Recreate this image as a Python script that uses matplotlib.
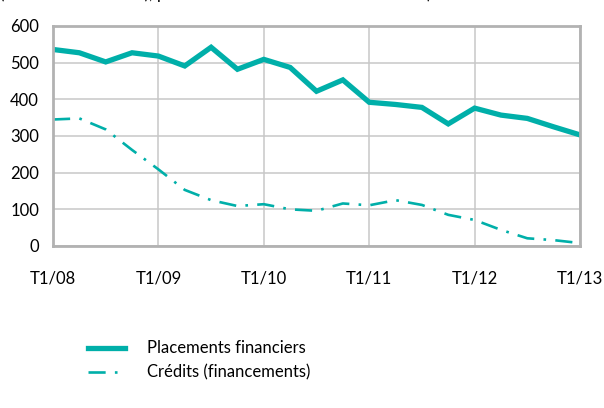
import matplotlib
matplotlib.use("Agg")
import matplotlib.pyplot as plt
import numpy as np

plt.rcParams['font.family'] = ['Lato', 'DejaVu Sans']

# quarterly data, T1/08 -> T1/13
placements = [536, 527, 502, 527, 518, 491, 542, 482, 509, 487, 422,
              453, 392, 386, 378, 333, 376, 357, 348, 325, 303]
credits = [345, 348, 318, 262, 209, 153, 125, 109, 114, 100, 96,
           116, 111, 125, 112, 85, 71, 44, 21, 16, 8]
tick_labels = ["T1/08", "T1/09", "T1/10", "T1/11", "T1/12", "T1/13"]

teal = "#00AFA9"
x = np.arange(len(placements))

fig = plt.figure(figsize=(6.04, 4.08), dpi=100)
ax = fig.add_axes([53/604, 1-246/408, 527/604, 220/408])

l1, = ax.plot(x, placements, color=teal, lw=3.8, solid_joinstyle='miter',
              label="Placements financiers")
l2, = ax.plot(x, credits, color=teal, lw=1.9, linestyle=(0, (6.5, 3.5, 1, 3.5)),
              label="Crédits (financements)")

ax.set_xlim(0, 20)
ax.set_ylim(0, 600)
ax.set_xticks(np.arange(0, 21, 4))
ax.set_xticklabels(tick_labels)
ax.set_yticks(np.arange(0, 601, 100))
ax.tick_params(length=0, labelsize=12, colors="#000000")
ax.tick_params(axis='x', pad=18)
ax.tick_params(axis='y', pad=10)
ax.grid(True, color="#c8c8c8", lw=1.1)
ax.set_axisbelow(True)
for s in ax.spines.values():
    s.set_color("#b2b2b2")
    s.set_linewidth(2)

# heading mostly above the top edge, only descenders visible (as in the source)
fig.text(0.0, 1 + 1/408, "(en milliards d'euros), placements et crédits en flux annuels)",
         fontsize=12, va='baseline', ha='left')

fig.legend(handles=[l1, l2], loc='upper left', bbox_to_anchor=(80/604, 1-332/408),
           frameon=False, fontsize=12, handlelength=2.2, handletextpad=1.3,
           labelspacing=0.5, borderpad=0)

fig.savefig("out.png", dpi=100)
